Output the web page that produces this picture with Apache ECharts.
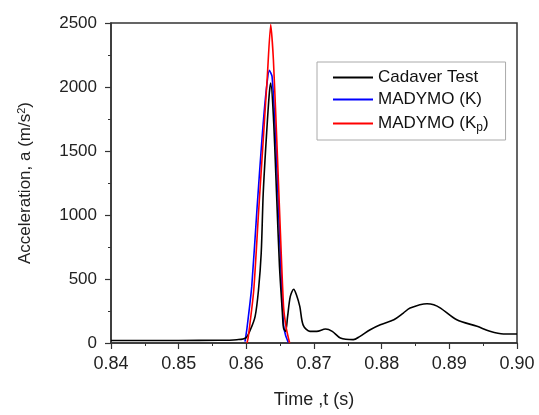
<!DOCTYPE html>
<html>
<head>
<meta charset="utf-8">
<script src="https://cdn.jsdelivr.net/npm/echarts@6/dist/echarts.min.js"></script>
<style>
html,body{margin:0;padding:0;background:#fff;}
#chart{width:539px;height:415px;}
</style>
</head>
<body>
<div id="chart"></div>
<script>
// Cadaver Test
var cadaverT = [0.8400, 0.8500, 0.8560, 0.8586, 0.8599, 0.8606, 0.8613, 0.8618, 0.8622, 0.8625, 0.8630, 0.8634, 0.8636, 0.8640, 0.8645, 0.8649, 0.8653, 0.8655, 0.8658, 0.8661, 0.8665, 0.8670, 0.8674, 0.8679, 0.8684, 0.8694, 0.8704, 0.8717, 0.8727, 0.8739, 0.8758, 0.8768, 0.8783, 0.8798, 0.8818, 0.8832, 0.8842, 0.8867, 0.8877, 0.8887, 0.8911, 0.8941, 0.8960, 0.8980, 0.9000];
var cadaverA = [20, 20, 21, 26, 39, 104, 208, 416, 703, 1174, 1641, 1953, 2030, 1770, 1120, 598, 260, 117, 91, 208, 364, 420, 377, 286, 140, 91, 91, 109, 91, 39, 26, 52, 104, 143, 182, 234, 273, 307, 299, 273, 182, 130, 91, 70, 70];
// MADYMO (K)
var kT = [0.8598, 0.8601, 0.8608, 0.8616, 0.8623, 0.8629, 0.8634, 0.8638, 0.8643, 0.8648, 0.8653, 0.8655, 0.8658, 0.8662];
var kA = [10, 117, 442, 1067, 1588, 1953, 2130, 2083, 1641, 989, 338, 140, 60, 5];
// MADYMO (Kp)
var kpT = [0.8601, 0.8603, 0.8611, 0.8618, 0.8625, 0.8631, 0.8636, 0.8640, 0.8645, 0.8650, 0.8655, 0.8659, 0.8664];
var kpA = [0, 52, 416, 1015, 1588, 2083, 2487, 2213, 1588, 911, 286, 117, 0];

var seriesNames = ['Cadaver Test', 'MADYMO (K)', 'MADYMO (Kp)'];
var seriesColors = ['#000000', '#0000ff', '#ff0000'];

function pairs(t, a) { return t.map(function (v, i) { return [v, a[i]]; }); }

var chart = echarts.init(document.getElementById('chart'), null, {renderer: 'canvas'});
var font = 'Liberation Sans, Arial, sans-serif';
chart.setOption({
  animation: false,
  backgroundColor: '#fff',
  grid: {left: 111, right: 22, top: 23, bottom: 72, show: true, borderColor: '#333', borderWidth: 1.5, backgroundColor: 'transparent'},
  legend: {
    left: 317, top: 62, orient: 'vertical',
    data: seriesNames,
    icon: 'rect',
    backgroundColor: '#fff',
    borderColor: '#aaa', borderWidth: 1,
    padding: [7, 17, 6, 16],
    itemWidth: 40, itemHeight: 2, itemGap: 5,
    formatter: function (n) { return n === 'MADYMO (Kp)' ? '{n|MADYMO (K}{s|p}{n|)}' : '{n|' + n + '}'; },
    textStyle: {
      fontFamily: font, fontSize: 17, color: '#111',
      rich: {
        n: {fontFamily: font, fontSize: 17, color: '#111', lineHeight: 19},
        s: {fontFamily: font, fontSize: 12, color: '#111', lineHeight: 13, padding: [9, 0, 0, 0]}
      }
    }
  },
  xAxis: {
    type: 'value', min: 0.84, max: 0.90, interval: 0.01,
    name: 'Time ,t (s)', nameLocation: 'middle', nameGap: 48,
    nameTextStyle: {fontFamily: font, fontSize: 18, color: '#222'},
    axisLine: {onZero: false, lineStyle: {color: '#333', width: 1.5}},
    axisTick: {inside: false, length: 6, lineStyle: {color: '#333', width: 1.2}},
    minorTick: {show: true, splitNumber: 2, length: 3, lineStyle: {color: '#333', width: 1}},
    splitLine: {show: false},
    axisLabel: {fontFamily: font, fontSize: 18, color: '#222', margin: 12,
      formatter: function (v) { return v.toFixed(2); }}
  },
  yAxis: {
    type: 'value', min: 0, max: 2500, interval: 500,
    name: 'Acceleration, a (m/s{sup|2})', nameLocation: 'middle', nameGap: 76, nameRotate: 90,
    nameTextStyle: {fontFamily: font, fontSize: 17, color: '#222',
      rich: {sup: {fontFamily: font, fontSize: 11, color: '#222', padding: [0, 0, 8, 0]}}},
    axisLine: {show: true, lineStyle: {color: '#333', width: 1.5}},
    axisTick: {show: true, inside: false, length: 6, lineStyle: {color: '#333', width: 1.2}},
    minorTick: {show: true, splitNumber: 2, length: 3, lineStyle: {color: '#333', width: 1}},
    splitLine: {show: false},
    axisLabel: {fontFamily: font, fontSize: 17, color: '#222', margin: 14,
      formatter: function (v) { return String(v); }}
  },
  series: [
    {name: seriesNames[0], type: 'line', data: pairs(cadaverT, cadaverA), symbol: 'none', smooth: 0.3,
      lineStyle: {color: seriesColors[0], width: 1.6}, itemStyle: {color: seriesColors[0]}, z: 3},
    {name: seriesNames[1], type: 'line', data: pairs(kT, kA), symbol: 'none', smooth: 0.2,
      lineStyle: {color: seriesColors[1], width: 1.6}, itemStyle: {color: seriesColors[1]}, z: 2},
    {name: seriesNames[2], type: 'line', data: pairs(kpT, kpA), symbol: 'none', smooth: 0.2,
      lineStyle: {color: seriesColors[2], width: 1.6}, itemStyle: {color: seriesColors[2]}, z: 4}
  ]
});
</script>
</body>
</html>
